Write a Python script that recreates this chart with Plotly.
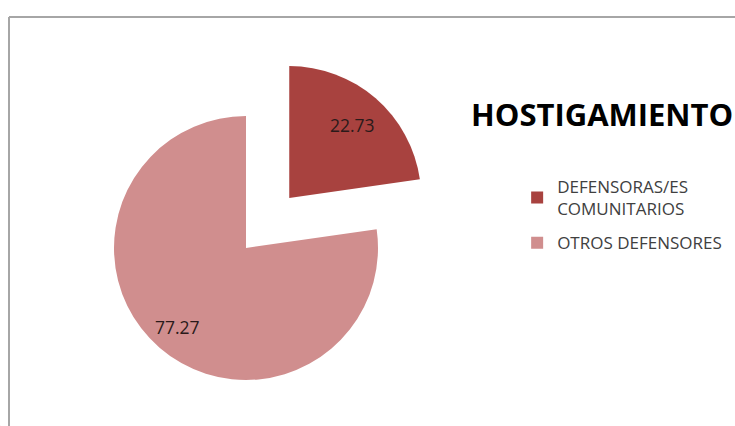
import math
import plotly.graph_objects as go

# ---- data ----
labels = ["DEFENSORAS/ES<br>COMUNITARIOS", "OTROS DEFENSORES"]
values = [22.73, 77.27]
colors = ["#A8423F", "#D08E8E"]
title_text = "HOSTIGAMIENTO"

# ---- layout geometry (pixels) ----
W, H = 735, 426
CX, CY, R = 246, 248, 132   # centre/radius of the main pie
PULL = 0.5                  # pull of the first slice (fraction of radius)
LABEL_R = [0.73, 0.79]      # label distance along slice bisector (fraction of radius)

def domain(cx, cy, r):
    return dict(x=[(cx - r) / W, (cx + r) / W],
                y=[1 - (cy + r) / H, 1 - (cy - r) / H])

total = sum(values)
# bisector angles (from 12 o'clock, clockwise)
starts = [sum(values[:i]) for i in range(len(values))]
mids = [2 * math.pi * (s + v / 2) / total for s, v in zip(starts, values)]
dcx = CX + PULL * R * math.sin(mids[0])
dcy = CY - PULL * R * math.cos(mids[0])
centers = [(dcx, dcy), (CX, CY)]

clear = "rgba(0,0,0,0)"
txtfont = dict(family="Open Sans", size=17.5, color="#2a1a1a")

fig = go.Figure()
# legend sources (essentially invisible pies), one legend group per category
for i, (lab, val, col) in enumerate(zip(labels, values, colors)):
    fig.add_trace(go.Pie(labels=[lab], values=[val], marker=dict(colors=[col]),
                         textinfo="none", hoverinfo="skip", legendgroup=f"g{i}",
                         domain=dict(x=[0, 0.0005], y=[0, 0.0005]), showlegend=True))
# main (light) slice
fig.add_trace(go.Pie(labels=labels, values=values, sort=False, direction="clockwise",
                     marker=dict(colors=[clear, colors[1]]), textinfo="none",
                     domain=domain(CX, CY, R), showlegend=False))
# pulled (dark) slice
fig.add_trace(go.Pie(labels=labels, values=values, sort=False, direction="clockwise",
                     marker=dict(colors=[colors[0], clear]), textinfo="none",
                     domain=domain(dcx, dcy, R), showlegend=False))

annotations = []
for v, m, k, (cx, cy) in zip(values, mids, LABEL_R, centers):
    px = cx + k * R * math.sin(m)
    py = cy - k * R * math.cos(m)
    annotations.append(dict(text=f"{v:.2f}", x=px / W, y=1 - py / H, xref="paper", yref="paper",
                            xanchor="center", yanchor="middle", showarrow=False, font=txtfont))

fig.update_layout(
    width=W, height=H, margin=dict(l=0, r=0, t=0, b=0),
    paper_bgcolor="white", plot_bgcolor="white",
    title=dict(text="<b>" + title_text + "</b>", x=471 / W, xanchor="left",
               y=1 - 115 / H, yanchor="middle",
               font=dict(family="Open Sans", size=31, color="#000000")),
    legend=dict(x=0.7036, y=1 - 169 / H, xanchor="left", yanchor="top",
                font=dict(family="Open Sans", size=17, color="#404040"),
                tracegroupgap=9, traceorder="grouped"),
    annotations=annotations,
    shapes=[dict(type="line", xref="paper", yref="paper", x0=9 / W, x1=9 / W, y0=-0.1, y1=1 - 17 / H,
                 line=dict(color="#A6A6A6", width=2), layer="below"),
            dict(type="line", xref="paper", yref="paper", x0=9 / W, x1=1.1, y0=1 - 17 / H, y1=1 - 17 / H,
                 line=dict(color="#A6A6A6", width=2), layer="below")],
)

fig.write_html("out.html", config={"displayModeBar": False},
               post_script="document.body.style.margin='0';")
